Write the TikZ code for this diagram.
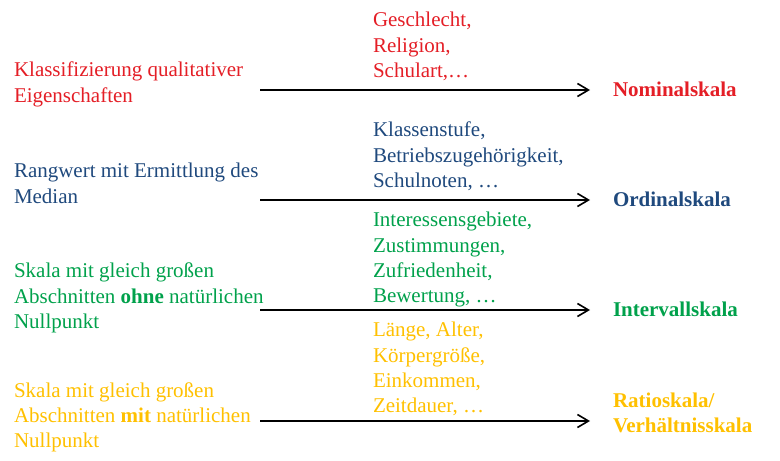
\documentclass[tikz,border=0pt]{standalone}
\usepackage{fontspec}
\setmainfont{LiberationSerif}[Extension=.ttf, UprightFont=*-Regular, BoldFont=*-Bold, ItalicFont=*-Italic, BoldItalicFont=*-BoldItalic]
\usetikzlibrary{arrows.meta}
\definecolor{cred}{HTML}{E41E26}
\definecolor{cblue}{HTML}{1F497D}
\definecolor{cgreen}{HTML}{00A14B}
\definecolor{corange}{HTML}{FFC000}
\newcommand\mlines[1]{\vtop{\baselineskip=25.3bp\lineskiplimit=-100bp\lineskip=0bp #1}}
\tikzset{
  txt/.style={anchor=base west, inner sep=0pt, outer sep=0pt, font=\rmfamily\fontsize{21bp}{25.3bp}\selectfont},
  lbl/.style={txt, font=\rmfamily\fontsize{21bp}{25.3bp}\selectfont\bfseries},
  arr/.style={draw=black, line width=1.8bp, -{Straight Barb[length=11bp,width=13bp,line width=1.6bp]}}
}
\begin{document}
\begin{tikzpicture}[x=1bp,y=-1bp]
\useasboundingbox (0,0) rectangle (780,461);
% Row 1: Nominal
\node[txt, text=cred] (l1) at (14,77) {\mlines{\hbox{Klassifizierung qualitativer}\hbox{Eigenschaften}}};
\node[txt, text=cred] (m1) at (373,27) {\mlines{\hbox{Geschlecht,}\hbox{Religion,}\hbox{Schulart,…}}};
\node[lbl, text=cred] (r1) at (613,97) {Nominalskala};
\coordinate (s1) at (260,90);
\coordinate (e1) at (590,90);
\draw[arr] (s1) -- (e1);
% Row 2: Ordinal
\node[txt, text=cblue] (l2) at (14,178) {\mlines{\hbox{Rangwert mit Ermittlung\ des}\hbox{Median}}};
\node[txt, text=cblue] (m2) at (373,137) {\mlines{\hbox{Klassenstufe,}\hbox{Betriebszugehörigkeit,}\hbox{Schulnoten, …}}};
\node[lbl, text=cblue] (r2) at (613,207) {Ordinalskala};
\coordinate (s2) at (260,200);
\coordinate (e2) at (590,200);
\draw[arr] (s2) -- (e2);
% Row 3: Intervall
\node[txt, text=cgreen] (l3) at (14,278) {\mlines{\hbox{Skala mit gleich großen}\hbox{Abschnitten \textbf{ohne} natürlichen}\hbox{Nullpunkt}}};
\node[txt, text=cgreen] (m3) at (373,227) {\mlines{\hbox{Interessensgebiete,}\hbox{Zustimmungen,}\hbox{Zufriedenheit,}\hbox{Bewertung, …}}};
\node[lbl, text=cgreen] (r3) at (613,317) {Intervallskala};
\coordinate (s3) at (260,310);
\coordinate (e3) at (590,310);
\draw[arr] (s3) -- (e3);
% Row 4: Ratio
\node[txt, text=corange] (l4) at (14,397) {\mlines{\hbox{Skala mit gleich großen}\hbox{Abschnitten \textbf{mit} natürlichen}\hbox{Nullpunkt}}};
\node[txt, text=corange] (m4) at (373,337) {\mlines{\hbox{Länge, Alter,}\hbox{Körpergröße,}\hbox{Einkommen,}\hbox{Zeitdauer, …}}};
\node[lbl, text=corange] (r4) at (613,407) {\mlines{\hbox{Ratioskala/}\hbox{Verhältnisskala}}};
\coordinate (s4) at (260,421);
\coordinate (e4) at (590,421);
\draw[arr] (s4) -- (e4);
\end{tikzpicture}
\end{document}
